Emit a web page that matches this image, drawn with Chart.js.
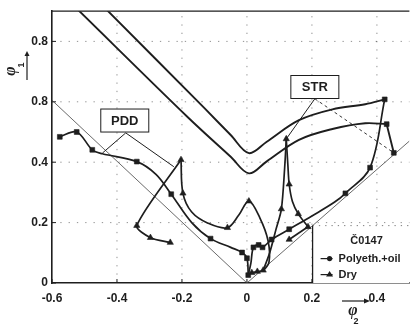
<!DOCTYPE html>
<html>
<head>
<meta charset="utf-8">
<script src="https://cdn.jsdelivr.net/npm/chart.js@4.4.1/dist/chart.umd.min.js"></script>
<style>
  html, body { margin: 0; padding: 0; background: #fff; }
</style>
</head>
<body>
<canvas id="friction" width="414" height="326"></canvas>
<script>
// axis ticks and the labels printed under them
const xTicks = [-0.6, -0.4, -0.2, 0, 0.2, 0.4];
const xTickLabels = ['-0.6', '-0.4', '-0.2', '0', '0.2', '0.4'];
const yTicks = [0, 0.2, 0.4, 0.6, 0.8];
const yTickLabels = ['0', '0.2', '0.4', '0.8', '0.8'];

// limit lines phi1 = |phi2|
const limitLeft = [[-0.6, 0.605], [0, 0]];
const limitRight = [[0, 0], [0.5, 0.47]];

// STR loops (the two V curves)
const strUpper = [[-0.455, 0.93], [-0.13, 0.578], [-0.05, 0.49], [0.006, 0.43], [0.06, 0.467],
                  [0.16, 0.539], [0.263, 0.575], [0.364, 0.592], [0.424, 0.608]];
const strLower = [[-0.525, 0.91], [-0.182, 0.549], [-0.05, 0.418], [0.006, 0.363], [0.06, 0.402],
                  [0.16, 0.474], [0.263, 0.51], [0.364, 0.529], [0.43, 0.526]];
const strDrop = [[0.43, 0.526], [0.452, 0.431]];

// Polyeth.+oil
const polyLeft = [[-0.576, 0.484], [-0.524, 0.5], [-0.476, 0.441], [-0.445, 0.428], [-0.339, 0.402],
                  [-0.28, 0.36], [-0.233, 0.294], [-0.17, 0.2], [-0.112, 0.147], [-0.05, 0.118],
                  [-0.015, 0.101], [0, 0.082], [0.004, 0.026]];
const polyRise = [[0.004, 0.026], [0.012, 0.065], [0.02, 0.118], [0.036, 0.126], [0.048, 0.118],
                  [0.076, 0.144], [0.13, 0.178], [0.2, 0.222], [0.27, 0.268], [0.303, 0.297],
                  [0.379, 0.382], [0.424, 0.608]];
const polyMarks = [[-0.576, 0.484], [-0.524, 0.5], [-0.476, 0.441], [-0.339, 0.402], [-0.233, 0.294],
                   [-0.112, 0.147], [-0.015, 0.101], [0, 0.082], [0.004, 0.026], [0.02, 0.118],
                   [0.036, 0.126], [0.048, 0.118], [0.076, 0.144], [0.13, 0.178], [0.303, 0.297],
                   [0.379, 0.382], [0.424, 0.608], [0.43, 0.526], [0.452, 0.431]];

// Dry
const dryLeft = [[-0.236, 0.134], [-0.297, 0.15], [-0.339, 0.19], [-0.203, 0.408]];
const dryWave = [[-0.203, 0.408], [-0.197, 0.297], [-0.17, 0.235], [-0.12, 0.198], [-0.06, 0.183],
                 [-0.025, 0.225], [0.006, 0.271], [0.04, 0.215], [0.065, 0.14], [0.068, 0.07],
                 [0.05, 0.042], [0.032, 0.038], [0.015, 0.034]];
const drySpike = [[0.05, 0.042], [0.07, 0.1], [0.09, 0.18], [0.106, 0.245], [0.116, 0.38], [0.121, 0.477]];
const dryFall = [[0.121, 0.477], [0.126, 0.39], [0.13, 0.327], [0.14, 0.27], [0.158, 0.229], [0.188, 0.186]];
const dryHook = [[0.188, 0.186], [0.13, 0.144]];
const dryMarks = [[-0.236, 0.134], [-0.297, 0.15], [-0.339, 0.19], [-0.203, 0.408], [-0.197, 0.297],
                  [-0.06, 0.183], [0.006, 0.271], [0.05, 0.042], [0.032, 0.038], [0.015, 0.034],
                  [0.106, 0.245], [0.121, 0.477], [0.13, 0.327], [0.158, 0.229], [0.188, 0.186],
                  [0.13, 0.144]];

// leader lines from the PDD / STR boxes
const pddLeaderA = [[-0.373, 0.497], [-0.445, 0.43]];
const pddLeaderB = [[-0.373, 0.497], [-0.225, 0.385]];
const strLeaderA = [[0.209, 0.61], [0.121, 0.477]];
const strLeaderB = [[0.209, 0.61], [0.452, 0.431]];

const INK = '#1e1e1e';
const FONT = '"Liberation Sans", Arial, sans-serif';

const toXY = pts => pts.map(([x, y]) => ({ x, y }));

function curve(pts, extra) {
    return Object.assign({
        data: toXY(pts), showLine: true, borderColor: INK, borderWidth: 1.7,
        pointRadius: 0, tension: 0.35, fill: false
    }, extra || {});
}

function marks(pts, style, radius) {
    return {
        data: toXY(pts), showLine: false, pointStyle: style, pointRadius: radius,
        backgroundColor: INK, borderColor: INK, borderWidth: 0.6
    };
}

// grid dots, frame, ticks, label boxes, legend and axis titles
const decorations = {
    id: 'decorations',
    beforeDatasetsDraw(chart) {
        const { ctx, chartArea: a, scales: { x, y } } = chart;
        ctx.save();
        ctx.strokeStyle = 'rgba(40,40,40,0.5)';
        ctx.lineWidth = 1;
        ctx.setLineDash([1.3, 7]);
        xTicks.slice(1).forEach(v => {
            const px = x.getPixelForValue(v);
            ctx.beginPath(); ctx.moveTo(px, a.bottom); ctx.lineTo(px, a.top); ctx.stroke();
        });
        yTicks.slice(1).forEach(v => {
            const py = y.getPixelForValue(v);
            ctx.beginPath(); ctx.moveTo(a.left, py); ctx.lineTo(a.right, py); ctx.stroke();
        });
        ctx.setLineDash([]);
        // top frame and small inward ticks
        ctx.strokeStyle = INK;
        ctx.lineWidth = 1.3;
        ctx.beginPath(); ctx.moveTo(a.left, a.top); ctx.lineTo(a.right, a.top); ctx.stroke();
        ctx.lineWidth = 1;
        xTicks.forEach(v => {
            const px = x.getPixelForValue(v);
            ctx.beginPath(); ctx.moveTo(px, a.bottom); ctx.lineTo(px, a.bottom - 4); ctx.stroke();
        });
        yTicks.forEach(v => {
            const py = y.getPixelForValue(v);
            ctx.beginPath(); ctx.moveTo(a.left, py); ctx.lineTo(a.left + 4, py); ctx.stroke();
        });
        ctx.restore();
    },
    afterDatasetsDraw(chart) {
        const { ctx, chartArea: a, scales: { x, y } } = chart;
        ctx.save();

        // PDD and STR boxes
        const box = (cx, cy, text) => {
            const px = x.getPixelForValue(cx), py = y.getPixelForValue(cy);
            ctx.fillStyle = '#fff';
            ctx.fillRect(px - 24, py - 11.5, 48, 23);
            ctx.strokeStyle = INK; ctx.lineWidth = 1;
            ctx.strokeRect(px - 24, py - 11.5, 48, 23);
            ctx.fillStyle = INK;
            ctx.font = 'bold 13px ' + FONT;
            ctx.textAlign = 'center'; ctx.textBaseline = 'middle';
            ctx.fillText(text, px, py + 0.5);
        };
        box(-0.376, 0.538, 'PDD');
        box(0.209, 0.649, 'STR');

        // legend panel in the lower right corner
        const lx = x.getPixelForValue(0.202), ly = y.getPixelForValue(0.19);
        ctx.fillStyle = '#fff';
        ctx.fillRect(lx, ly, a.right - lx, a.bottom - ly);
        ctx.strokeStyle = INK; ctx.lineWidth = 1.3;
        ctx.beginPath(); ctx.moveTo(lx, a.bottom); ctx.lineTo(lx, ly); ctx.stroke();
        ctx.strokeStyle = 'rgba(40,40,40,0.6)'; ctx.lineWidth = 1;
        ctx.setLineDash([1.3, 5]);
        ctx.beginPath(); ctx.moveTo(lx, ly); ctx.lineTo(a.right, ly); ctx.stroke();
        ctx.setLineDash([]);

        ctx.fillStyle = INK;
        ctx.textBaseline = 'middle';
        ctx.font = 'bold 11px ' + FONT;
        ctx.textAlign = 'center';
        ctx.fillText('Č0147', lx + 54, ly + 15);
        ctx.textAlign = 'left';
        ctx.fillText('Polyeth.+oil', lx + 26, ly + 33);
        ctx.fillText('Dry', lx + 26, ly + 49);

        ctx.strokeStyle = INK; ctx.lineWidth = 1.2;
        [ly + 33, ly + 49].forEach(yy => {
            ctx.beginPath(); ctx.moveTo(lx + 8, yy); ctx.lineTo(lx + 20, yy); ctx.stroke();
        });
        ctx.beginPath(); ctx.arc(lx + 17, ly + 33, 2.6, 0, Math.PI * 2); ctx.fill();
        ctx.beginPath();
        ctx.moveTo(lx + 17, ly + 45.5); ctx.lineTo(lx + 20.5, ly + 51); ctx.lineTo(lx + 13.5, ly + 51);
        ctx.closePath(); ctx.fill();
        ctx.restore();
    },
    afterDraw(chart) {
        const { ctx } = chart;
        ctx.save();
        ctx.fillStyle = INK; ctx.strokeStyle = INK;
        ctx.textAlign = 'center'; ctx.textBaseline = 'middle';

        // y title, read bottom to top
        ctx.save();
        ctx.translate(11, 71);
        ctx.rotate(-Math.PI / 2);
        ctx.font = 'italic bold 16px "Liberation Serif", serif';
        ctx.fillText('φ', 0, 0);
        ctx.font = 'bold 9px ' + FONT;
        ctx.fillText('1', 6, 11);
        ctx.restore();
        ctx.lineWidth = 1.2;
        ctx.beginPath(); ctx.moveTo(27, 80); ctx.lineTo(27, 55); ctx.stroke();
        ctx.beginPath(); ctx.moveTo(27, 51); ctx.lineTo(29.5, 56); ctx.lineTo(24.5, 56); ctx.closePath(); ctx.fill();

        // x title
        ctx.beginPath(); ctx.moveTo(342, 301); ctx.lineTo(365, 301); ctx.stroke();
        ctx.beginPath(); ctx.moveTo(370, 301); ctx.lineTo(364, 298.5); ctx.lineTo(364, 303.5); ctx.closePath(); ctx.fill();
        ctx.font = 'italic bold 16px "Liberation Serif", serif';
        ctx.fillText('φ', 353, 311);
        ctx.font = 'bold 9px ' + FONT;
        ctx.fillText('2', 356, 322);
        ctx.restore();
    }
};

const tickFont = { family: FONT, size: 12, weight: 'bold' };

new Chart(document.getElementById('friction'), {
    type: 'scatter',
    data: {
        datasets: [
            marks(polyMarks, 'rect', 3.4),
            marks(dryMarks, 'triangle', 3.6),
            curve(polyLeft),
            curve(polyRise),
            curve(dryLeft, { tension: 0.25 }),
            curve(dryWave),
            curve(drySpike, { tension: 0.3 }),
            curve(dryFall, { tension: 0.3 }),
            curve(dryHook, { tension: 0 }),
            curve(strUpper, { borderWidth: 1.9 }),
            curve(strLower, { borderWidth: 1.9 }),
            curve(strDrop, { tension: 0, borderWidth: 1.9 }),
            curve(pddLeaderA, { tension: 0, borderWidth: 1 }),
            curve(pddLeaderB, { tension: 0, borderWidth: 1 }),
            curve(strLeaderA, { tension: 0, borderWidth: 1 }),
            curve(strLeaderB, { tension: 0, borderWidth: 0.9, borderDash: [3, 3] }),
            curve(limitLeft, { tension: 0, borderWidth: 0.8, borderColor: '#444' }),
            curve(limitRight, { tension: 0, borderWidth: 0.8, borderColor: '#444' })
        ]
    },
    options: {
        responsive: false,
        animation: false,
        events: [],
        layout: { padding: { top: 8, right: 0, left: 0, bottom: 0 } },
        plugins: { legend: { display: false }, tooltip: { enabled: false } },
        scales: {
            x: {
                type: 'linear', min: -0.6, max: 0.5,
                afterBuildTicks: s => { s.ticks = xTicks.map(v => ({ value: v })); },
                afterFit: s => { s.height = 43; },
                ticks: {
                    callback: (v, i) => xTickLabels[i], font: tickFont, color: INK,
                    padding: 8, maxRotation: 0, autoSkip: false
                },
                grid: { display: false, drawTicks: false },
                border: { display: true, color: INK, width: 1.6 }
            },
            y: {
                type: 'linear', min: 0, max: 0.9,
                afterBuildTicks: s => { s.ticks = yTicks.map(v => ({ value: v })); },
                afterFit: s => { s.width = 52; },
                ticks: {
                    callback: (v, i) => yTickLabels[i], font: tickFont, color: INK,
                    padding: 4, autoSkip: false
                },
                grid: { display: false, drawTicks: false },
                border: { display: true, color: INK, width: 1.6 }
            }
        }
    },
    plugins: [decorations]
});
</script>
</body>
</html>
